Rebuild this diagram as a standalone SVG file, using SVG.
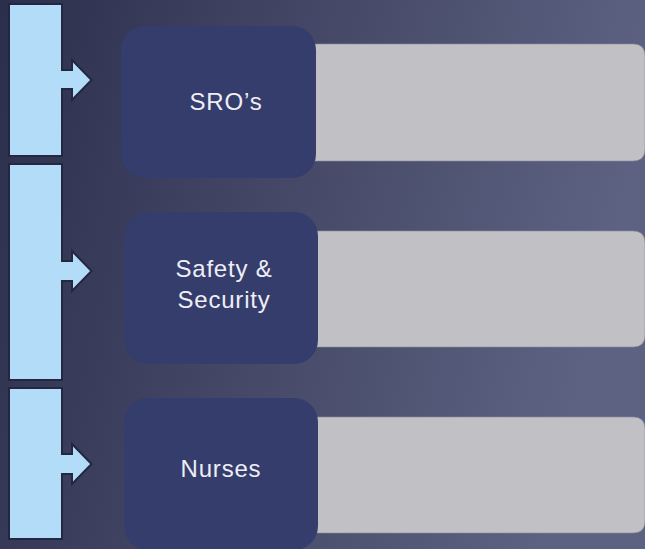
<svg xmlns="http://www.w3.org/2000/svg" width="645" height="549" viewBox="0 0 645 549">
<defs>
<linearGradient id="bg" x1="0" y1="0" x2="1" y2="0.2">
<stop offset="0" stop-color="#2c2f4c"/>
<stop offset="1" stop-color="#5e6282"/>
</linearGradient>
<style>
.bar{fill:#b3dcf9;stroke:#232741;stroke-width:2;stroke-linejoin:miter}
.node{fill:#353d6d}
.detail{fill:#c0c0c5;stroke:#8a8aa0;stroke-width:0.6}
.lbl{fill:#eeeef5;font-family:"Liberation Sans",Arial,sans-serif;font-size:24px;letter-spacing:0.8px;text-anchor:middle}
</style>
</defs>
<rect width="645" height="549" fill="url(#bg)"/>
<g id="connectors">
<path class="bar" d="M9,4 H62 V70 H72 V60 L91.5,80 L72,100 V89 H62 V156 H9 Z"/>
<path class="bar" d="M9,164 H62 V261 H72 V251 L91.5,271 L72,291 V281 H62 V380 H9 Z"/>
<path class="bar" d="M9,388 H62 V454 H72 V444 L91.5,464 L72,484 V474 H62 V539 H9 Z"/>
</g>
<g id="detail1"><path class="detail" d="M300,44 H633 Q645,44 645,56 V149 Q645,161 633,161 H300 Z"/></g>
<g id="detail2"><path class="detail" d="M300,231 H633 Q645,231 645,243 V335 Q645,347 633,347 H300 Z"/></g>
<g id="detail3"><path class="detail" d="M300,417 H633 Q645,417 645,429 V521 Q645,533 633,533 H300 Z"/></g>
<g id="node1">
<rect class="node" x="121" y="26" width="195" height="152" rx="24"/>
<text class="lbl" x="226" y="110">SRO’s</text>
</g>
<g id="node2">
<rect class="node" x="124" y="212" width="194" height="152" rx="24"/>
<text class="lbl" x="224" y="277">Safety &amp;</text>
<text class="lbl" x="224" y="308">Security</text>
</g>
<g id="node3">
<rect class="node" x="124" y="398" width="194" height="152" rx="24"/>
<text class="lbl" x="221" y="477">Nurses</text>
</g>
</svg>
